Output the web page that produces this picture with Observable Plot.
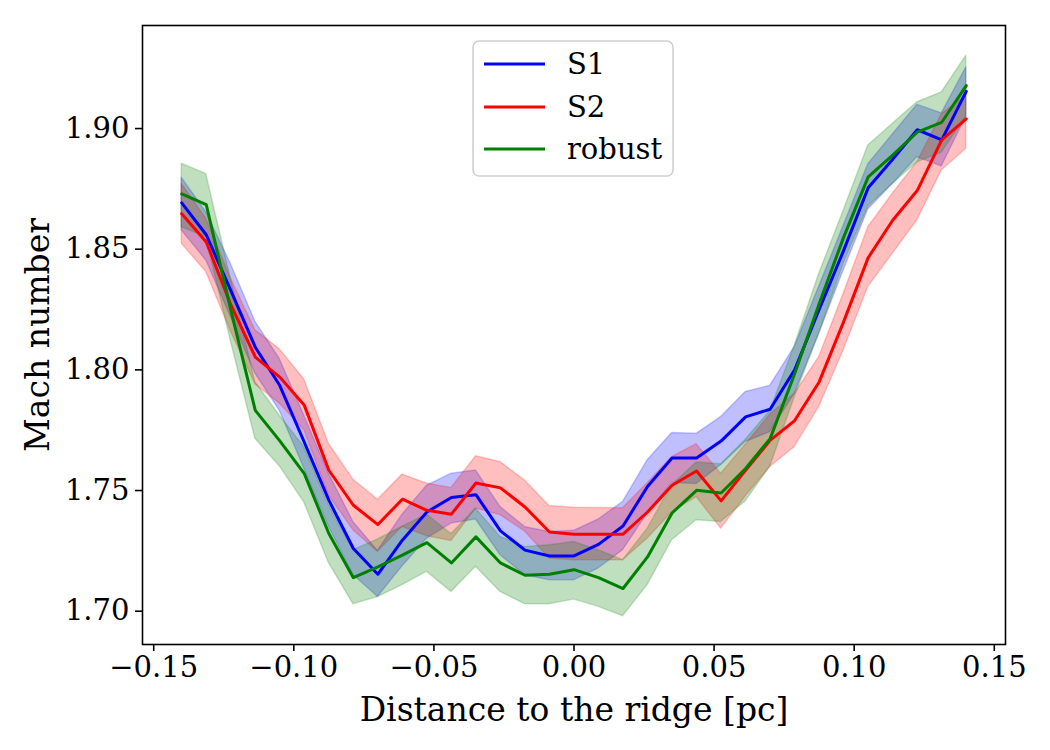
<!DOCTYPE html>
<html><head><meta charset="utf-8">
<script src="https://cdn.jsdelivr.net/npm/d3@7"></script>
<script src="https://cdn.jsdelivr.net/npm/@observablehq/plot@0.6"></script>
<style>body{margin:0;background:#fff} #chart{width:1050px;height:750px}</style>
</head><body><div id="chart"></div>
<script>
const distance = [-0.14, -0.13125, -0.1225, -0.11375, -0.105, -0.09625, -0.0875, -0.07875, -0.07, -0.06125, -0.0525, -0.04375, -0.035, -0.02625, -0.0175, -0.00875, 0, 0.00875, 0.0175, 0.02625, 0.035, 0.04375, 0.0525, 0.06125, 0.07, 0.07875, 0.0875, 0.09625, 0.105, 0.11375, 0.1225, 0.13125, 0.14];

const s1 = [1.8692,1.8560,1.8329,1.8094,1.7935,1.7700,1.7460,1.7260,1.7153,1.7294,1.7411,1.7471,1.7483,1.7333,1.7253,1.7229,1.7229,1.7277,1.7353,1.7517,1.7635,1.7635,1.7705,1.7805,1.7837,1.8000,1.8250,1.8495,1.8755,1.8873,1.8995,1.8953,1.9154];
const s1Lo = [1.8578,1.8453,1.8220,1.7985,1.7830,1.7590,1.7350,1.7150,1.7059,1.7185,1.7300,1.7363,1.7380,1.7232,1.7149,1.7128,1.7128,1.7177,1.7253,1.7404,1.7531,1.7527,1.7605,1.7701,1.7742,1.7901,1.8150,1.8412,1.8665,1.8770,1.8881,1.8843,1.9050];
const s1Hi = [1.8796,1.8653,1.8440,1.8200,1.8045,1.7810,1.7570,1.7370,1.7250,1.7400,1.7520,1.7570,1.7583,1.7432,1.7349,1.7328,1.7333,1.7380,1.7453,1.7625,1.7738,1.7735,1.7805,1.7908,1.7934,1.8095,1.8345,1.8598,1.8852,1.8975,1.9099,1.9063,1.9254];

const s2 = [1.8647,1.8530,1.8270,1.8053,1.7970,1.7853,1.7584,1.7439,1.7359,1.7464,1.7418,1.7402,1.7531,1.7511,1.7432,1.7328,1.7319,1.7319,1.7319,1.7411,1.7522,1.7581,1.7457,1.7584,1.7708,1.7790,1.7950,1.8200,1.8465,1.8620,1.8743,1.8953,1.9040];
const s2Lo = [1.8523,1.8405,1.8160,1.7940,1.7860,1.7750,1.7480,1.7335,1.7246,1.7349,1.7311,1.7291,1.7425,1.7398,1.7330,1.7218,1.7211,1.7211,1.7211,1.7300,1.7410,1.7473,1.7342,1.7475,1.7598,1.7680,1.7846,1.8081,1.8343,1.8481,1.8619,1.8826,1.8916];
const s2Hi = [1.8771,1.8626,1.8380,1.8165,1.8085,1.7960,1.7694,1.7545,1.7462,1.7566,1.7529,1.7511,1.7642,1.7618,1.7542,1.7436,1.7429,1.7428,1.7427,1.7530,1.7639,1.7692,1.7570,1.7690,1.7815,1.7901,1.8053,1.8316,1.8591,1.8730,1.8860,1.9060,1.9137];

const robust = [1.8729,1.8685,1.8250,1.7832,1.7706,1.7570,1.7322,1.7139,1.7184,1.7232,1.7284,1.7200,1.7308,1.7200,1.7149,1.7153,1.7172,1.7139,1.7094,1.7225,1.7407,1.7501,1.7490,1.7591,1.7715,1.7984,1.8274,1.8550,1.8800,1.8890,1.8985,1.9026,1.9178];
const robustLo = [1.8591,1.8550,1.8120,1.7715,1.7600,1.7450,1.7200,1.7029,1.7059,1.7108,1.7163,1.7080,1.7184,1.7080,1.7029,1.7029,1.7048,1.7018,1.6979,1.7108,1.7294,1.7377,1.7370,1.7455,1.7598,1.7885,1.8150,1.8440,1.8677,1.8770,1.8860,1.8900,1.9050];
const robustHi = [1.8854,1.8812,1.8380,1.7950,1.7810,1.7680,1.7440,1.7253,1.7297,1.7350,1.7400,1.7320,1.7425,1.7308,1.7266,1.7273,1.7287,1.7253,1.7211,1.7342,1.7522,1.7616,1.7609,1.7710,1.7830,1.8100,1.8398,1.8660,1.8930,1.9020,1.9109,1.9150,1.9302];

const seriesNames = ["S1", "S2", "robust"];
const seriesColors = ["#0000ff", "#ff0000", "#008000"];
const xTicks = [-0.15, -0.10, -0.05, 0.00, 0.05, 0.10, 0.15];
const yTicks = [1.70, 1.75, 1.80, 1.85, 1.90];
const xLabel = "Distance to the ridge [pc]";
const yLabel = "Mach number";

const seriesData = [[s1, s1Lo, s1Hi], [s2, s2Lo, s2Hi], [robust, robustLo, robustHi]];
const rows = [];
seriesNames.forEach((name, k) => {
  const [mid, lo, hi] = seriesData[k];
  distance.forEach((d, i) => rows.push({series: name, x: d, y: mid[i], lo: lo[i], hi: hi[i]}));
});

const fmt = d3.format(".2f");
const plot = Plot.plot({
  width: 1050, height: 750,
  marginLeft: 142, marginRight: 45, marginTop: 25, marginBottom: 106,
  style: {fontFamily: "DejaVu Serif", fontSize: "29px", background: "white", color: "black"},
  x: {domain: [-0.154, 0.154]},
  y: {domain: [1.6862, 1.9427]},
  color: {domain: seriesNames, range: seriesColors},
  marks: [
    Plot.areaY(rows, {x: "x", y1: "lo", y2: "hi", z: "series", fill: "series", fillOpacity: 0.25, stroke: "series", strokeOpacity: 0.2, strokeWidth: 1.5}),
    Plot.lineY(rows, {x: "x", y: "y", z: "series", stroke: "series", strokeWidth: 3}),
    Plot.frame({stroke: "black", strokeWidth: 1.6}),
    Plot.axisX({ticks: xTicks, tickFormat: fmt, tickSize: 7, tickPadding: 5, strokeWidth: 1.6, label: null, fontSize: 29}),
    Plot.axisY({ticks: yTicks, tickFormat: fmt, tickSize: 7, tickPadding: 6, strokeWidth: 1.6, label: null, fontSize: 29}),
    Plot.text([xLabel], {frameAnchor: "bottom", dy: 66, text: d => d, fontSize: 33, lineAnchor: "middle"}),
    Plot.text([yLabel], {frameAnchor: "left", dx: -104, text: d => d, fontSize: 33, rotate: -90, textAnchor: "middle", lineAnchor: "middle"})
  ]
});
document.getElementById("chart").appendChild(plot);

// legend
const svg = d3.select(plot);
const lg = svg.append("g").attr("font-family", "DejaVu Serif").attr("font-size", 29).attr("text-anchor", "start");
lg.append("rect").attr("x", 473).attr("y", 41).attr("width", 200).attr("height", 135).attr("rx", 6)
  .attr("fill", "white").attr("fill-opacity", 0.8).attr("stroke", "#d0d0d0").attr("stroke-width", 1.6);
const rowY = [64, 107, 149];
seriesNames.forEach((name, k) => {
  lg.append("line").attr("x1", 484).attr("x2", 545).attr("y1", rowY[k]).attr("y2", rowY[k])
    .attr("stroke", seriesColors[k]).attr("stroke-width", 3);
  lg.append("text").attr("x", 567).attr("y", rowY[k] + 10).attr("fill", "black").attr("text-anchor", "start").text(name);
});
</script></body></html>
